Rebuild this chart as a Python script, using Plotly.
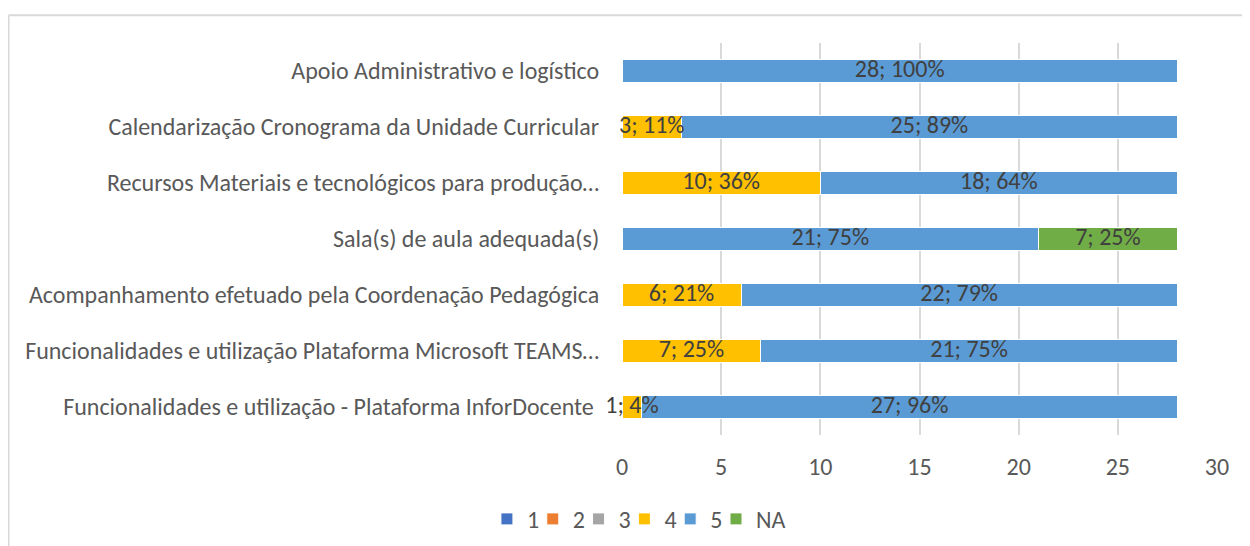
import plotly.graph_objects as go

categories = [
    "Funcionalidades e utilização - Plataforma InforDocente ",
    "Funcionalidades e utilização Plataforma Microsoft TEAMS…",
    "Acompanhamento efetuado pela Coordenação Pedagógica",
    "Sala(s) de aula adequada(s)",
    "Recursos Materiais e tecnológicos para produção…",
    "Calendarização Cronograma da Unidade Curricular",
    "Apoio Administrativo e logístico",
]
series_names = ["1", "2", "3", "4", "5", "NA"]
s1 = [0, 0, 0, 0, 0, 0, 0]
s2 = [0, 0, 0, 0, 0, 0, 0]
s3 = [0, 0, 0, 0, 0, 0, 0]
s4 = [1, 7, 6, 0, 10, 3, 0]
s5 = [27, 21, 22, 21, 18, 25, 28]
sNA = [0, 0, 0, 7, 0, 0, 0]
colors = ["#4472C4", "#ED7D31", "#A5A5A5", "#FFC000", "#5B9BD5", "#70AD47"]

all_series = [s1, s2, s3, s4, s5, sNA]
totals = [sum(v) for v in zip(*all_series)]

FONT = "Calibri, Carlito, Lato, sans-serif"
FS = 24

# legend anchor positions (paper x) for each series, one legend per series
legend_x = [-0.227, -0.150, -0.073, 0.004, 0.081, 0.158]

fig = go.Figure()
for i, (name, vals, col) in enumerate(zip(series_names, all_series, colors)):
    fig.add_trace(go.Bar(
        y=categories, x=vals, name=name, orientation="h",
        marker=dict(color=col, line=dict(color="white", width=1)),
        hoverinfo="x+y+name",
        legend="legend" if i == 0 else f"legend{i + 1}",
    ))

# data labels drawn on top of all bars, at the centre of each segment
lab_x, lab_y, lab_t = [], [], []
cum = [0] * len(categories)
for vals in all_series:
    for j, (v, t) in enumerate(zip(vals, totals)):
        if v > 0:
            lab_x.append(cum[j] + v / 2)
            lab_y.append(categories[j])
            lab_t.append(f"{v}; {round(100 * v / t)}%")
        cum[j] += v
fig.add_trace(go.Scatter(
    x=lab_x, y=lab_y, text=lab_t, mode="text", textposition="middle center",
    textfont=dict(family=FONT, size=FS, color="#404040"),
    showlegend=False, hoverinfo="skip", cliponaxis=False,
))

# chart frame (decorative)
fig.add_shape(type="line", xref="paper", yref="paper",
              x0=-1.031, x1=1.1, y0=1.071, y1=1.071,
              line=dict(color="#D9D9D9", width=2))
fig.add_shape(type="line", xref="paper", yref="paper",
              x0=-1.031, x1=-1.031, y0=1.071, y1=-0.3,
              line=dict(color="#D9D9D9", width=2))

legend_common = dict(orientation="h", xanchor="left", y=-0.215, yanchor="middle",
                     font=dict(size=FS, color="#595959"), bgcolor="rgba(0,0,0,0)")
legends = {("legend" if i == 0 else f"legend{i + 1}"): dict(x=lx, **legend_common)
           for i, lx in enumerate(legend_x)}

fig.update_layout(
    barmode="stack",
    bargap=0.6,
    width=1250, height=546,
    margin=dict(l=614, r=41, t=35, b=119, autoexpand=False),
    plot_bgcolor="white", paper_bgcolor="white",
    font=dict(family=FONT, size=FS, color="#595959"),
    xaxis=dict(range=[0, 30], dtick=5, showgrid=True, gridcolor="#D9D9D9",
               gridwidth=2, zeroline=False, showline=False,
               tickfont=dict(size=FS, color="#595959"), ticks="outside",
               ticklen=10, tickcolor="rgba(0,0,0,0)"),
    yaxis=dict(showgrid=False, showline=False, ticks="outside", ticklen=17,
               tickcolor="rgba(0,0,0,0)", tickfont=dict(size=FS, color="#595959"),
               categoryorder="array", categoryarray=categories),
    showlegend=True,
    **legends,
)

fig.write_html("out.html")
